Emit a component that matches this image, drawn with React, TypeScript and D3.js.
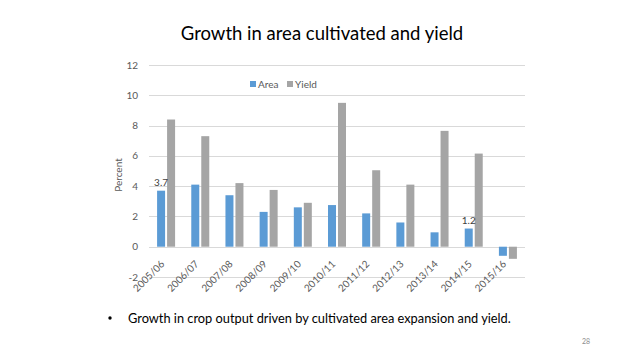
import { useRef, useEffect } from 'react'
import * as d3 from 'd3'

const categories = ['2005/06', '2006/07', '2007/08', '2008/09', '2009/10', '2010/11', '2011/12', '2012/13', '2013/14', '2014/15', '2015/16']
const areaValues = [3.7, 4.1, 3.4, 2.3, 2.6, 2.75, 2.2, 1.6, 0.95, 1.2, -0.6]
const yieldValues = [8.4, 7.3, 4.2, 3.75, 2.9, 9.5, 5.05, 4.1, 7.65, 6.15, -0.8]
const yTicks = [-2, 0, 2, 4, 6, 8, 10, 12]
const labelled = [{ series: 'area', index: 0, text: '3.7' }, { series: 'area', index: 9, text: '1.2' }]

const W = 638
const H = 359
const FONT = 'Lato, "Open Sans", sans-serif'

export default function App() {
  const svgRef = useRef<SVGSVGElement>(null)

  useEffect(() => {
    if (!svgRef.current) return
    const svg = d3.select(svgRef.current)
    svg.selectAll('*').remove()

    const margin = { left: 149, right: 113, top: 65, bottom: 82 }
    const x = d3.scaleBand<string>()
      .domain(categories)
      .range([margin.left, W - margin.right])
    const y = d3.scaleLinear()
      .domain([-2, 12])
      .range([H - margin.bottom, margin.top])

    const barW = 8
    const gap = 2

    // title
    svg.append('text')
      .attr('x', 322)
      .attr('y', 40)
      .attr('text-anchor', 'middle')
      .attr('font-family', FONT)
      .attr('font-size', 18.5)
      .attr('fill', '#000')
      .text('Growth in area cultivated and yield')

    // grid
    svg.append('g')
      .selectAll('line')
      .data(yTicks)
      .enter()
      .append('line')
      .attr('x1', margin.left)
      .attr('x2', W - margin.right)
      .attr('y1', d => Math.round(y(d)) + 0.5)
      .attr('y2', d => Math.round(y(d)) + 0.5)
      .attr('stroke', '#d9d9d9')
      .attr('stroke-width', 1)

    // y tick labels
    svg.append('g')
      .selectAll('text')
      .data(yTicks)
      .enter()
      .append('text')
      .attr('x', 138)
      .attr('y', d => y(d) + 3.5)
      .attr('text-anchor', 'end')
      .attr('font-family', FONT)
      .attr('font-size', 10)
      .attr('fill', '#595959')
      .text(d => String(d))

    // y axis title
    svg.append('text')
      .attr('transform', `translate(122,${(y(12) + y(-2)) / 2 + 4}) rotate(-90)`)
      .attr('text-anchor', 'middle')
      .attr('font-family', FONT)
      .attr('font-size', 10)
      .attr('fill', '#595959')
      .text('Percent')

    const barTop = (v: number) => Math.min(y(v), y(0))
    const barH = (v: number) => Math.abs(y(v) - y(0))
    const center = (c: string) => (x(c) as number) + x.bandwidth() / 2

    // area bars
    svg.append('g')
      .selectAll('rect')
      .data(areaValues)
      .enter()
      .append('rect')
      .attr('x', (_, i) => center(categories[i]) - gap / 2 - barW)
      .attr('y', d => barTop(d))
      .attr('width', barW)
      .attr('height', d => barH(d))
      .attr('fill', '#5b9bd5')

    // yield bars
    svg.append('g')
      .selectAll('rect')
      .data(yieldValues)
      .enter()
      .append('rect')
      .attr('x', (_, i) => center(categories[i]) + gap / 2)
      .attr('y', d => barTop(d))
      .attr('width', barW)
      .attr('height', d => barH(d))
      .attr('fill', '#a5a5a5')

    // data labels
    svg.append('g')
      .selectAll('text')
      .data(labelled)
      .enter()
      .append('text')
      .attr('x', d => center(categories[d.index]) - gap / 2 - barW / 2)
      .attr('y', d => y(areaValues[d.index]) - 5)
      .attr('text-anchor', 'middle')
      .attr('font-family', FONT)
      .attr('font-size', 10)
      .attr('fill', '#404040')
      .text(d => d.text)

    // x labels
    svg.append('g')
      .selectAll('text')
      .data(categories)
      .enter()
      .append('text')
      .attr('transform', d => `translate(${center(d) - 1},${y(0) + 18}) rotate(-45)`)
      .attr('text-anchor', 'end')
      .attr('font-family', FONT)
      .attr('font-size', 10)
      .attr('fill', '#595959')
      .text(d => d)

    // legend
    const legend = svg.append('g').attr('transform', 'translate(250,84)')
    const items = [{ name: 'Area', color: '#5b9bd5', dx: 0 }, { name: 'Yield', color: '#a5a5a5', dx: 37 }]
    items.forEach(it => {
      legend.append('rect')
        .attr('x', it.dx)
        .attr('y', -3)
        .attr('width', 6)
        .attr('height', 6)
        .attr('fill', it.color)
      legend.append('text')
        .attr('x', it.dx + 8)
        .attr('y', 3.5)
        .attr('font-family', FONT)
        .attr('font-size', 10)
        .attr('fill', '#595959')
        .text(it.name)
    })

    // bullet text
    svg.append('circle')
      .attr('cx', 110)
      .attr('cy', 318)
      .attr('r', 1.7)
      .attr('fill', '#000')
    svg.append('text')
      .attr('x', 128)
      .attr('y', 323)
      .attr('font-family', FONT)
      .attr('font-size', 12.8)
      .attr('fill', '#000')
      .text('Growth in crop output driven by cultivated area expansion and yield.')

    // page number
    svg.append('text')
      .attr('x', 590)
      .attr('y', 344)
      .attr('text-anchor', 'end')
      .attr('font-family', FONT)
      .attr('font-size', 7)
      .attr('fill', '#8c8c8c')
      .text('28')
  }, [])

  return (
    <svg
      ref={svgRef}
      width={W}
      height={H}
      style={{ position: 'absolute', left: 0, top: 0, background: '#fff', display: 'block' }}
    />
  )
}
